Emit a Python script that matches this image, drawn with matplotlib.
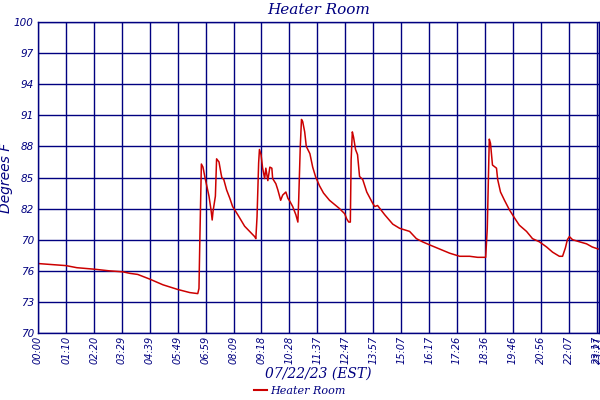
import matplotlib
matplotlib.use("Agg")
import matplotlib.pyplot as plt
from matplotlib.lines import Line2D

# minutes after midnight, temperature in degrees F
minutes = [0, 70, 97, 142, 177, 212, 230, 249, 279, 312, 349, 379, 399, 402, 404,
           408, 412, 417, 422, 427, 432, 435, 437, 443, 446, 452, 457, 459, 464, 471,
           479, 486, 499, 516, 531, 541, 544, 547, 551, 553, 557, 561, 566, 569, 574,
           579, 584, 586, 594, 599, 606, 611, 619, 624, 629, 636, 644, 649, 651, 655,
           658, 661, 666, 670, 679, 686, 693, 703, 713, 728, 753, 766, 771, 776, 780,
           782, 785, 788, 793, 798, 803, 811, 821, 836, 841, 848, 866, 886, 903, 928,
           945, 960, 978, 1003, 1028, 1053, 1078, 1098, 1118, 1122, 1127, 1130, 1135, 1145, 1148,
           1155, 1165, 1177, 1190, 1202, 1220, 1235, 1252, 1270, 1285, 1302, 1310, 1317, 1322, 1327,
           1335, 1352, 1370, 1384, 1399]
temps = [76.7, 76.5, 76.3, 76.15, 76.0, 75.9, 75.75, 75.65, 75.2, 74.65, 74.2, 73.9, 73.8, 74.3, 78.6,
         86.3, 86.0, 85.0, 84.1, 83.2, 81.9, 80.9, 81.7, 83.2, 86.8, 86.5, 85.4, 85.0, 84.8, 83.8,
         83.0, 82.2, 81.4, 80.3, 79.7, 79.3, 79.1, 81.2, 86.4, 87.7, 87.2, 85.9, 84.9, 85.9, 84.7,
         86.0, 85.9, 84.9, 84.4, 83.8, 82.8, 83.3, 83.6, 83.0, 82.7, 82.2, 81.4, 80.7, 82.8, 88.0,
         90.6, 90.4, 89.4, 88.0, 87.3, 86.0, 85.1, 84.2, 83.5, 82.8, 82.0, 81.5, 81.0, 80.7, 80.7,
         86.7, 89.4, 88.9, 87.7, 87.2, 85.1, 84.8, 83.6, 82.5, 82.2, 82.3, 81.4, 80.5, 80.1, 79.8,
         79.1, 78.8, 78.5, 78.1, 77.7, 77.4, 77.4, 77.3, 77.3, 80.1, 88.7, 88.3, 86.2, 85.9, 84.8,
         83.6, 82.8, 81.9, 81.1, 80.4, 79.8, 79.1, 78.8, 78.3, 77.8, 77.4, 77.4, 78.2, 79.0, 79.3,
         79.0, 78.8, 78.6, 78.3, 78.1]

x_labels = ["00:00", "01:10", "02:20", "03:29", "04:39", "05:49", "06:59", "08:09",
            "09:18", "10:28", "11:37", "12:47", "13:57", "15:07", "16:17", "17:26",
            "18:36", "19:46", "20:56", "22:07", "23:17", "23:21"]
y_ticks = [70, 73, 76, 79, 82, 85, 88, 91, 94, 97, 100]
y_labels = ["70", "73", "76", "70", "82", "85", "88", "91", "94", "97", "100"]

navy = "#000080"
red = "#cc0000"

x_ticks = [int(s[:2]) * 60 + int(s[3:]) for s in x_labels]

fig = plt.figure(figsize=(6, 4), dpi=100)
ax = fig.add_axes([38 / 600, 67 / 400, 561 / 600, 311 / 400])

ax.plot(minutes, temps, color=red, linewidth=1.1)

ax.set_xlim(0, x_ticks[-1])
ax.set_ylim(70, 100)
ax.set_xticks(x_ticks)
ax.set_xticklabels(x_labels, rotation=90, fontsize=7, style="italic", color=navy)
ax.set_yticks(y_ticks)
ax.set_yticklabels(y_labels, fontsize=7.5, style="italic", color=navy)
ax.tick_params(axis="x", length=0, pad=2)
ax.tick_params(axis="y", length=0, pad=3)
ax.grid(True, color=navy, linewidth=1.0)
for s in ax.spines.values():
    s.set_color(navy)
    s.set_linewidth(1.0)

ax.set_title("Heater Room", fontsize=11, family="DejaVu Serif", style="italic",
             color=navy, pad=6)
ax.set_ylabel("Degrees F", fontsize=10, style="italic", color=navy, labelpad=1)
ax.set_xlabel("07/22/23 (EST)", fontsize=10, family="DejaVu Serif", style="italic",
              color=navy, labelpad=2)

handle = Line2D([], [], color=red, linewidth=1.5)
fig.legend([handle], ["Heater Room"], loc="center", bbox_to_anchor=(0.5, 0.022),
           frameon=False, handlelength=1.2, handletextpad=0.3,
           prop={"family": "DejaVu Serif", "style": "italic", "size": 8},
           labelcolor=navy)

fig.savefig("out.png", dpi=100)
